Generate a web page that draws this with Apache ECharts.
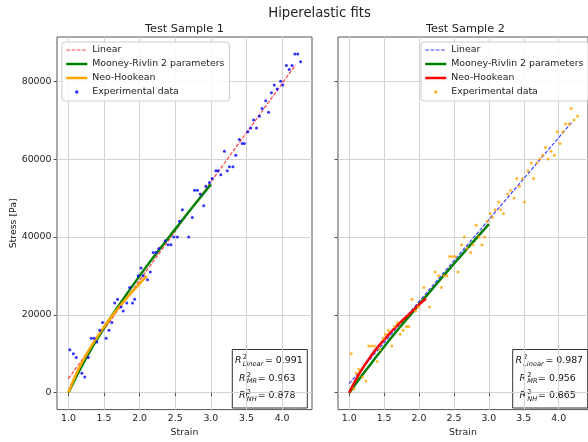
<!DOCTYPE html>
<html>
<head>
<meta charset="utf-8">
<script src="https://cdn.jsdelivr.net/npm/echarts@6/dist/echarts.min.js"></script>
<style>
html, body { margin: 0; padding: 0; background: #fff; }
#chart { width: 588px; height: 442px; }
</style>
</head>
<body>
<div id="chart"></div>
<script>
// Test Sample 1 - experimental points
var strain1 = [1.02, 1.07, 1.11, 1.19, 1.23, 1.28, 1.32, 1.36, 1.40, 1.44, 1.48, 1.53, 1.57, 1.61, 1.65, 1.69, 1.74, 1.77, 1.82, 1.86,
	1.90, 1.93, 1.98, 2.02, 2.05, 2.11, 2.15, 2.19, 2.23, 2.27, 2.36, 2.40, 2.44, 2.48, 2.53, 2.56, 2.60, 2.69, 2.74, 2.77,
	2.81, 2.85, 2.90, 2.93, 2.98, 3.02, 3.07, 3.10, 3.14, 3.19, 3.23, 3.26, 3.31, 3.35, 3.40, 3.44, 3.47, 3.52, 3.56, 3.60,
	3.64, 3.68, 3.72, 3.77, 3.81, 3.85, 3.89, 3.93, 3.98, 4.01, 4.06, 4.10, 4.14, 4.18, 4.22, 4.26];
var stress1 = [11000, 10000, 9000, 5000, 4000, 9000, 14000, 14000, 13000, 16000, 18000, 14000, 16000, 18000, 23000, 24000, 22000, 21000, 23000, 27000,
	23000, 24000, 30000, 32000, 30000, 29000, 31000, 36000, 36000, 37000, 39000, 38000, 38000, 40000, 40000, 44000, 47000, 40000, 45000, 52000,
	52000, 51000, 48000, 53000, 54000, 55000, 57000, 57000, 56000, 62000, 57000, 58000, 58000, 61000, 65000, 64000, 64000, 67000, 68000, 70000,
	68000, 71000, 73000, 75000, 72000, 77000, 79000, 78000, 80000, 79000, 84000, 83000, 84000, 87000, 87000, 85000];

// Test Sample 2 - experimental points
var strain2 = [1.03, 1.07, 1.10, 1.14, 1.19, 1.24, 1.28, 1.32, 1.36, 1.40, 1.44, 1.49, 1.52, 1.56, 1.61, 1.65, 1.69, 1.73, 1.77, 1.82,
	1.85, 1.90, 1.95, 1.99, 2.07, 2.15, 2.23, 2.28, 2.32, 2.36, 2.40, 2.44, 2.48, 2.52, 2.56, 2.61, 2.65, 2.69, 2.74, 2.77,
	2.82, 2.86, 2.90, 2.94, 2.98, 3.02, 3.05, 3.09, 3.14, 3.17, 3.21, 3.27, 3.31, 3.36, 3.40, 3.44, 3.48, 3.51, 3.56, 3.61,
	3.64, 3.69, 3.73, 3.77, 3.81, 3.85, 3.89, 3.94, 3.98, 4.02, 4.06, 4.10, 4.15, 4.18, 4.22, 4.27];
var stress2 = [10000, 1000, 5000, 6000, 4000, 3000, 12000, 12000, 12000, 8000, 11000, 14000, 15000, 16000, 12000, 17000, 18000, 15000, 16000, 17000,
	17000, 24000, 21000, 22000, 27000, 22000, 31000, 30000, 27000, 30000, 30000, 35000, 35000, 35000, 31000, 38000, 40000, 37000, 36000, 38000,
	43000, 40000, 38000, 40000, 44000, 46000, 45000, 47000, 49000, 47000, 46000, 51000, 52000, 50000, 55000, 53000, 55000, 49000, 57000, 59000,
	55000, 59000, 60000, 61000, 63000, 60000, 62000, 61000, 67000, 64000, 67000, 69000, 69000, 73000, 70000, 71000];

// fitted curves
var linStrain1 = [1.0, 4.19];
var linStress1 = [3600, 84200];
var linStrain2 = [1.0, 4.19];
var linStress2 = [2300, 69500];

var mrStrain = [1.0, 1.25, 1.5, 1.75, 2.0, 2.25, 2.5, 2.75, 3.0];
var mrStress1 = [0, 8900, 16600, 23500, 30000, 36100, 42000, 47800, 53500];
var mrStress2 = [0, 6000, 11800, 17300, 22600, 27900, 33100, 38200, 43300];

var nhStrain = [1.0, 1.1, 1.2, 1.3, 1.4, 1.5, 1.6, 1.7, 1.8, 1.9, 2.0, 2.1];
var nhStress1 = [0, 4400, 8100, 11300, 14200, 16900, 19400, 21700, 23900, 26000, 28000, 30000];
var nhStress2 = [0, 3500, 6500, 9100, 11500, 13600, 15600, 17500, 19200, 20900, 22600, 24100];

var r2Names = ['Linear', 'MR', 'NH'];
var r2Values1 = ['0.991', '0.963', '0.878'];
var r2Values2 = ['0.987', '0.956', '0.865'];

var xTicks = [1.0, 1.5, 2.0, 2.5, 3.0, 3.5, 4.0];
var yTicks = [0, 20000, 40000, 60000, 80000];
var xMin = 0.84, xMax = 4.42;
var yMin = -4350, yMax = 91350;

var FONT = '"DejaVu Sans", sans-serif';
var TXT = '#222';
var FRAME = '#555';

var grids = [
	{ left: 57, top: 37, width: 255, height: 376 },
	{ left: 338, top: 37, width: 255, height: 376 }
];

function pairs(xs, ys) {
	var out = [];
	for (var i = 0; i < xs.length; i++) {
		out.push([xs[i], ys[i]]);
	}
	return out;
}

function makeX(g) {
	return {
		type: 'value', gridIndex: g, min: xMin, max: xMax,
		axisLine: { show: false },
		axisTick: { show: true, customValues: xTicks, length: 3.5, lineStyle: { color: FRAME } },
		axisLabel: {
			customValues: xTicks, margin: 4.5, fontSize: 9.4, color: TXT, fontFamily: FONT,
			formatter: function(v) { return v.toFixed(1); }
		},
		splitLine: { show: true, lineStyle: { color: '#d3d3d3', width: 1 } },
		name: 'Strain', nameLocation: 'middle', nameGap: 16,
		nameTextStyle: { fontSize: 9.4, color: TXT, fontFamily: FONT }
	};
}

function makeY(g, withLabels) {
	var axis = {
		type: 'value', gridIndex: g, min: yMin, max: yMax,
		axisLine: { show: false },
		axisTick: { show: true, customValues: yTicks, length: 3.5, lineStyle: { color: FRAME } },
		axisLabel: {
			show: withLabels, customValues: yTicks, margin: 5.5, fontSize: 9.4, color: TXT, fontFamily: FONT,
			formatter: function(v) { return String(v); }
		},
		splitLine: { show: true, lineStyle: { color: '#d3d3d3', width: 1 } }
	};
	if (withLabels) {
		axis.name = 'Stress [Pa]';
		axis.nameLocation = 'middle';
		axis.nameGap = 39;
		axis.nameTextStyle = { fontSize: 9.4, color: TXT, fontFamily: FONT };
	}
	return axis;
}

function makeSeries(g, lin, mr, nh, pts, c) {
	return [
		{
			type: 'line', name: 'Linear', xAxisIndex: g, yAxisIndex: g, data: lin, symbol: 'none', z: 2,
			lineStyle: { color: c.lin, width: 1.2, type: [3.7, 1.6], opacity: 0.75 }, itemStyle: { color: c.lin }
		},
		{
			type: 'line', name: 'Mooney-Rivlin 2 parameters', xAxisIndex: g, yAxisIndex: g, data: mr, symbol: 'none', smooth: true, z: 3,
			lineStyle: { color: '#008000', width: 2.5 }, itemStyle: { color: '#008000' }
		},
		{
			type: 'line', name: 'Neo-Hookean', xAxisIndex: g, yAxisIndex: g, data: nh, symbol: 'none', smooth: true, z: 4,
			lineStyle: { color: c.nh, width: 2.5 }, itemStyle: { color: c.nh }
		},
		{
			type: 'scatter', name: 'Experimental data', xAxisIndex: g, yAxisIndex: g, data: pts, symbol: 'circle', symbolSize: 3, z: 5,
			itemStyle: { color: c.pts }
		}
	];
}

function makeLegend(left, c) {
	var hidden = { color: 'rgba(0,0,0,0)', borderWidth: 0 };
	return {
		orient: 'vertical', left: left, top: 42,
		itemWidth: 21, itemHeight: 3.5, itemGap: 0,
		padding: [1, 5, 2, 3],
		backgroundColor: 'rgba(255,255,255,0.85)',
		borderColor: '#cccccc', borderWidth: 1, borderRadius: 3,
		selectedMode: false,
		textStyle: { fontSize: 9.4, color: TXT, fontFamily: FONT, lineHeight: 14 },
		data: [
			{ name: 'Linear', itemStyle: hidden, lineStyle: { color: c.lin, width: 1.2, type: [3.7, 1.6], opacity: 0.75 } },
			{ name: 'Mooney-Rivlin 2 parameters', itemStyle: hidden, lineStyle: { color: '#008000', width: 2.5 } },
			{ name: 'Neo-Hookean', itemStyle: hidden, lineStyle: { color: c.nh, width: 2.5 } },
			{ name: 'Experimental data', icon: 'circle', itemStyle: { color: c.pts, borderWidth: 0 } }
		]
	};
}

function label(text, x, y, size, italic) {
	return {
		type: 'text', x: x, y: y,
		style: {
			text: text, fill: '#111',
			font: (italic ? 'italic ' : '') + size + 'px "DejaVu Sans"',
			textAlign: 'left', textVerticalAlign: 'middle'
		}
	};
}

function r2Box(boxLeft, values) {
	var children = [{
		type: 'rect', shape: { x: 0, y: 0, width: 75, height: 58.5 },
		style: { fill: '#fff', stroke: '#333', lineWidth: 1 }
	}];
	for (var i = 0; i < r2Names.length; i++) {
		var cy = 11.5 + i * 17.5;
		var rx = i === 0 ? 2.7 : 6.7;
		var vx = i === 0 ? 32.7 : 25.4;
		children.push(label('R', rx, cy, 9.4, true));
		children.push(label('2', rx + 7.8, cy - 3.4, 6.6, false));
		children.push(label(r2Names[i], rx + 7.8, cy + 2.8, 6.6, true));
		children.push(label('= ' + values[i], vx, cy, 9.4, false));
	}
	return { type: 'group', x: boxLeft, y: 349.5, z: 10, children: children };
}

function title(text, x, y, size) {
	return {
		type: 'text', x: x, y: y, z: 10,
		style: {
			text: text, fill: TXT, font: size + 'px "DejaVu Sans"',
			textAlign: 'center', textVerticalAlign: 'middle'
		}
	};
}

var colors1 = { lin: '#ff0000', nh: '#ffa500', pts: '#0000ff' };
var colors2 = { lin: '#0000ff', nh: '#ff0000', pts: '#ffa500' };

var chart = echarts.init(document.getElementById('chart'), null, { renderer: 'canvas' });
chart.setOption({
	animation: false,
	backgroundColor: '#fff',
	grid: grids.map(function(g) {
		return { left: g.left, top: g.top, width: g.width, height: g.height, show: true, borderColor: FRAME, borderWidth: 1, containLabel: false };
	}),
	xAxis: [makeX(0), makeX(1)],
	yAxis: [makeY(0, true), makeY(1, false)],
	legend: [makeLegend(62, colors1), makeLegend(421, colors2)],
	series: makeSeries(0, pairs(linStrain1, linStress1), pairs(mrStrain, mrStress1), pairs(nhStrain, nhStress1), pairs(strain1, stress1), colors1)
		.concat(makeSeries(1, pairs(linStrain2, linStress2), pairs(mrStrain, mrStress2), pairs(nhStrain, nhStress2), pairs(strain2, stress2), colors2)),
	graphic: [
		title('Hiperelastic fits', 319.5, 14, 13.2),
		title('Test Sample 1', grids[0].left + grids[0].width / 2, 29.5, 11.3),
		title('Test Sample 2', grids[1].left + grids[1].width / 2, 29.5, 11.3),
		r2Box(232.3, r2Values1),
		r2Box(512.7, r2Values2)
	]
});
</script>
</body>
</html>
